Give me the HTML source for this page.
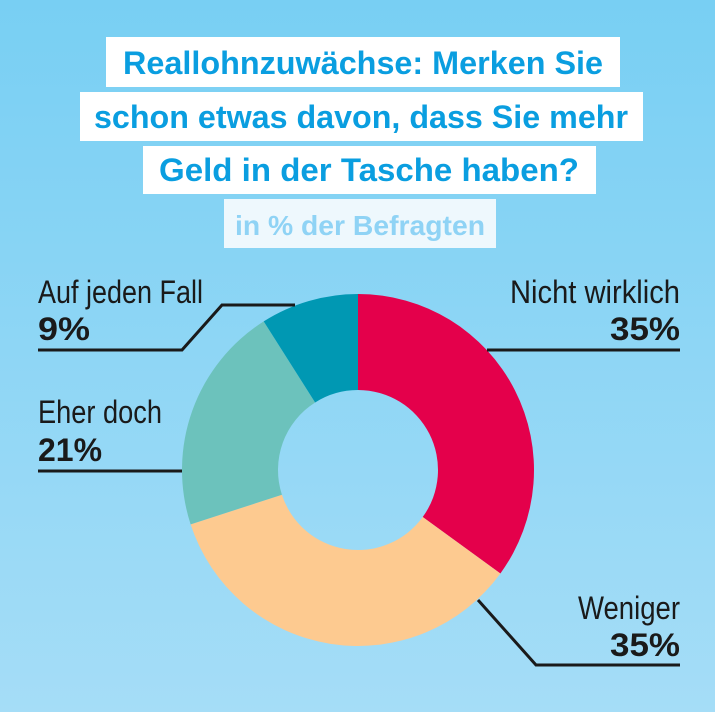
<!DOCTYPE html>
<html><head><meta charset="utf-8"><style>
html,body{margin:0;padding:0}
body{width:715px;height:712px;overflow:hidden;background:linear-gradient(#78cff3,#a5ddf7);font-family:"Liberation Sans",sans-serif}
svg{display:block}
</style></head><body>
<svg width="715" height="712">
<g font-family="Liberation Sans, sans-serif" font-weight="bold" font-size="32" fill="#0a9ee0" text-anchor="middle">
<rect x="106" y="37" width="514" height="50" fill="#fff"/>
<text x="363" y="74" textLength="480" lengthAdjust="spacingAndGlyphs">Reallohnzuwächse: Merken Sie</text>
<rect x="80" y="92" width="563" height="49" fill="#fff"/>
<text x="361" y="128" textLength="534" lengthAdjust="spacingAndGlyphs">schon etwas davon, dass Sie mehr</text>
<rect x="143" y="146" width="453" height="48" fill="#fff"/>
<text x="369" y="181" textLength="420" lengthAdjust="spacingAndGlyphs">Geld in der Tasche haben?</text>
</g>
<g>
<rect x="224" y="199" width="272" height="49" fill="#eef8fd"/>
<text x="360" y="235" text-anchor="middle" font-weight="bold" font-size="28" fill="#8fd3f5" textLength="250" lengthAdjust="spacingAndGlyphs">in % der Befragten</text>
</g>
<g id="donut"></g>
<g stroke="#1a1a1a" stroke-width="3" fill="none">
<polyline points="38,350 182,350 222,305 295,305"/>
<polyline points="38,471 182,471"/>
<polyline points="487,350 680,350"/>
<polyline points="478,600 536,665 680,665"/>
</g>
<g font-family="Liberation Sans Narrow, Liberation Sans, sans-serif" fill="#1a1a1a" font-size="32">
<text x="38" y="303" textLength="165" lengthAdjust="spacingAndGlyphs">Auf jeden Fall</text>
<text x="38" y="340" font-weight="900" textLength="52" lengthAdjust="spacingAndGlyphs">9%</text>
<text x="38" y="423" textLength="124" lengthAdjust="spacingAndGlyphs">Eher doch</text>
<text x="38" y="461" font-weight="900" textLength="64" lengthAdjust="spacingAndGlyphs">21%</text>
<text x="680" y="303" text-anchor="end" textLength="170" lengthAdjust="spacingAndGlyphs">Nicht wirklich</text>
<text x="680" y="340" text-anchor="end" font-weight="900" textLength="70" lengthAdjust="spacingAndGlyphs">35%</text>
<text x="680" y="619" text-anchor="end" textLength="102" lengthAdjust="spacingAndGlyphs">Weniger</text>
<text x="680" y="656" text-anchor="end" font-weight="900" textLength="70" lengthAdjust="spacingAndGlyphs">35%</text>
</g>
</svg>
<script>
const categories = ["Nicht wirklich", "Weniger", "Eher doch", "Auf jeden Fall"];
const values = [35, 35, 21, 9];
const colors = ["#e4004b", "#fdca90", "#6cc2bc", "#0098b3"];
const cx = 358, cy = 470, R = 176, r = 80;
const g = document.getElementById('donut');
const total = values.reduce((a, b) => a + b, 0);
function pt(rad, a) { return [cx + rad * Math.sin(a), cy - rad * Math.cos(a)]; }
let acc = 0;
values.forEach((v, i) => {
  const a0 = acc / total * 2 * Math.PI; acc += v;
  const a1 = acc / total * 2 * Math.PI;
  const large = (a1 - a0) > Math.PI ? 1 : 0;
  const [x0, y0] = pt(R, a0), [x1, y1] = pt(R, a1), [x2, y2] = pt(r, a1), [x3, y3] = pt(r, a0);
  const p = document.createElementNS('http://www.w3.org/2000/svg', 'path');
  p.setAttribute('d', `M${x0},${y0} A${R},${R} 0 ${large} 1 ${x1},${y1} L${x2},${y2} A${r},${r} 0 ${large} 0 ${x3},${y3} Z`);
  p.setAttribute('fill', colors[i]);
  
  
  g.appendChild(p);
});
</script>
</body></html>
